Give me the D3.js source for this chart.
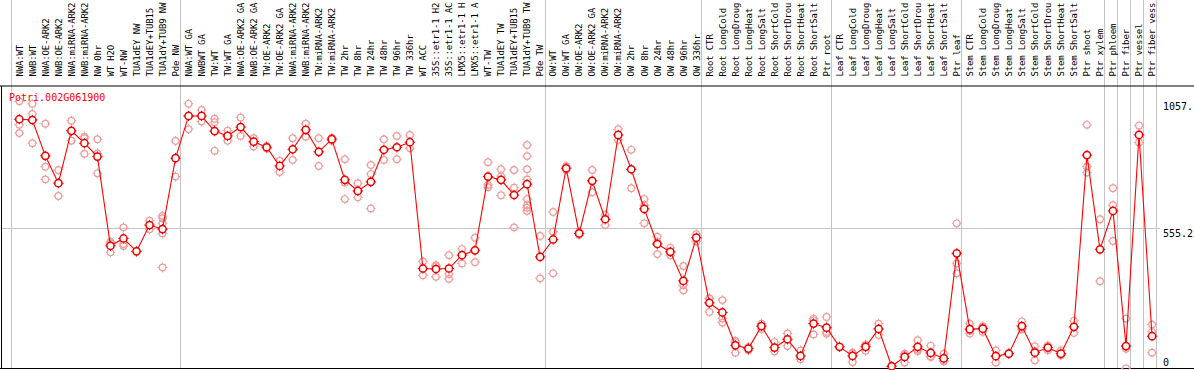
<!DOCTYPE html>
<html><head><meta charset="utf-8">
<script src="https://cdn.jsdelivr.net/npm/d3@7"></script>
<style>
html,body{margin:0;padding:0;background:#fff;overflow:hidden;}
svg{display:block;}
text{font-family:"DejaVu Sans Mono","Liberation Mono",monospace;}
</style></head><body>
<svg id="chart" width="1194" height="370"></svg>
<script>
const geneId = "Potri.002G061900";
const categories = [
"NWA:WT","NWB:WT","NWA:OE-ARK2","NWB:OE-ARK2","NWA:miRNA-ARK2","NWB:miRNA-ARK2","NW 0hr","WT H2O","WT-NW","TUA1dEY NW","TUA1dEY+TUB15","TUA1dY+TUB9 NW","Pde NW",
"NWA:WT GA","NWBWT GA","TW:WT","TW:WT GA","NWA:OE-ARK2 GA","NWB:OE-ARK2 GA","TW:OE-ARK2","TW:OE-ARK2 GA","NWA:miRNA-ARK2","NWB:miRNA-ARK2","TW:miRNA-ARK2","TW:miRNA-ARK2","TW 2hr","TW 8hr","TW 24hr","TW 48hr","TW 96hr","TW 336hr","WT ACC","35S::etr1-1 H2","35S::etr1-1 AC","LMX5::etr1-1 H","LMX5::etr1-1 A","WT-TW","TUA1dEY TW","TUA1dEY+TUB15","TUA1dY+TUB9 TW","Pde TW",
"OW:WT","OW:WT GA","OW:OE-ARK2","OW:OE-ARK2 GA","OW:miRNA-ARK2","OW:miRNA-ARK2","OW 2hr","OW 8hr","OW 24hr","OW 48hr","OW 96hr","OW 336hr",
"Root CTR","Root LongCold","Root LongDroug","Root LongHeat","Root LongSalt","Root ShortCold","Root ShortDrou","Root ShortHeat","Root ShortSalt","Ptr root",
"Leaf CTR","Leaf LongCold","Leaf LongDroug","Leaf LongHeat","Leaf LongSalt","Leaf ShortCold","Leaf ShortDrou","Leaf ShortHeat","Leaf ShortSalt","Ptr leaf",
"Stem CTR","Stem LongCold","Stem LongDroug","Stem LongHeat","Stem LongSalt","Stem ShortCold","Stem ShortDrou","Stem ShortHeat","Stem ShortSalt","Ptr shoot","Ptr xylem",
"Ptr phloem","Ptr fiber","Ptr vessel","Ptr fiber vess"
];
const means = [
986,983,841,733,940,891,838,485,514,463,567,551,832,
999,999,939,920,955,897,875,801,867,944,857,907,746,702,738,865,875,895,395,393,395,448,467,759,746,686,729,441,
510,792,534,742,590,924,788,631,492,461,346,517,
259,221,91,78,167,82,115,49,177,161,
85,49,85,156,8,45,85,61,39,455,
155,157,48,58,167,62,82,58,164,844,471,
623,88,924,127
];
const replicates = [
[1057,964,931],[1047,1007,891],[968,798,748],[785,682],[980,901],[917,911,849],[907,851,772],[501,495,459],[558,492,484],[463],[584,550],[603,594,574,534,399],[900,759],
[1047,999,947],[1023,977],[988,974,861],[941,901],[993,920],[911,896,878],[880,870],[822,777],[911,825],[968,917],[911,801],[913,901],[828,735,670],[733,702,677],[805,769,633],[907,825],[920,828],[924,871],[423,368],[408,404,362],[448,373,354],[472,415],[517,420],[816,726,717],[788,761,685],[785,715,558],[884,840,788,748,670,646,636,623],[524,356],
[619,541,376],[800,785],[540,528],[785,697],[607,567],[947,904],[865,713],[670,646,574],[521,500,452],[477,448],[405,329,309],[531,502],
[277,277,223],[270,197,181],[108,103,62],[85,71],[177,156],[104,67],[138,88],[71,36],[197,190,134],[203,144,137],
[84],[62,59,25],[94,91,69],[177,132],[8],[58,53,23],[111,74,68],[90,47,45],[58,29,28],[574,415,376],
[177,149,138],[167,162,144],[71,49,23],[60,57],[186,160,154],[87,68,32],[91,71],[71,52,52],[188,140],[964,798,775],[590,345],
[713,646,504],[197,77,0],[961,894],[173,144,62]
];
const groupBreaks = [0,13,41,53,63,73,84,85,86,87,88];
const yDomainMax = 1110.4;
const yTicks = [1057, 555.2, 0];
const yTickLabels = ["1057.", "555.2", "0"];

const svg = d3.select("#chart");
const W = 1194, H = 370;
const plotTop = 86, plotBottom = 368.5;

const x = d3.scaleLinear().domain([0, categories.length - 1]).range([19.3, 19.3 + 13.02 * (categories.length - 1)]);
const y = d3.scaleLinear().domain([0, yDomainMax]).range([368.3, 87.8]);

// vertical group separators
svg.append("g").selectAll("line").data(groupBreaks).join("line")
  .attr("x1", d => Math.round(x(d - 0.66)) + 0.5).attr("x2", d => Math.round(x(d - 0.66)) + 0.5)
  .attr("y1", 0).attr("y2", plotBottom)
  .attr("stroke", "#c4c4c4").attr("stroke-width", 1);

// horizontal mid grid
svg.append("line")
  .attr("x1", 1).attr("x2", 1160)
  .attr("y1", Math.round(y(yTicks[1])) + 0.5).attr("y2", Math.round(y(yTicks[1])) + 0.5)
  .attr("stroke", "#c4c4c4").attr("stroke-width", 1);

// frame lines
svg.append("line").attr("x1", 0).attr("x2", W).attr("y1", plotTop).attr("y2", plotTop).attr("stroke", "#000").attr("stroke-width", 1);
svg.append("line").attr("x1", 0).attr("x2", W).attr("y1", plotBottom).attr("y2", plotBottom).attr("stroke", "#000").attr("stroke-width", 1);
svg.append("line").attr("x1", 1.5).attr("x2", 1.5).attr("y1", plotTop).attr("y2", plotBottom).attr("stroke", "#000").attr("stroke-width", 1);

// marker helper
function marker(g, cx, cy, r, color, sw) {
  g.append("circle").attr("cx", cx).attr("cy", cy).attr("r", r)
    .attr("fill", "none").attr("stroke", color).attr("stroke-width", sw);
  const t = r + 1.6;
  g.append("path")
    .attr("d", `M${cx},${cy - r}V${cy - t}M${cx},${cy + r}V${cy + t}M${cx - r},${cy}H${cx - t}M${cx + r},${cy}H${cx + t}`)
    .attr("stroke", color).attr("stroke-width", 1).attr("fill", "none");
}

// replicates
const repG = svg.append("g");
replicates.forEach((reps, i) => {
  reps.forEach(v => marker(repG, x(i), y(v), 3.3, "#f09a9a", 1.2));
});

// mean line
svg.append("path")
  .datum(means)
  .attr("d", d3.line().x((d, i) => x(i)).y(d => y(d)))
  .attr("fill", "none").attr("stroke", "#ff0000").attr("stroke-width", 1.1);

// mean markers
const meanG = svg.append("g");
means.forEach((v, i) => {
  meanG.append("circle").attr("cx", x(i)).attr("cy", y(v)).attr("r", 3.6).attr("fill", "#fff");
  marker(meanG, x(i), y(v), 3.6, "#ee0000", 1.5);
});

// gene label
svg.append("text").attr("x", 9).attr("y", 101)
  .attr("fill", "#ff0000").attr("font-size", "10px").text(geneId);

// right value labels
yTicks.forEach((v, k) => {
  const yy = k === yTicks.length - 1 ? 365.5 : y(v) + 8.7;
  svg.append("text").attr("x", 1163).attr("y", yy).attr("fill", "#000")
    .attr("font-size", "10px").text(yTickLabels[k]);
});

// category labels (vertical)
svg.append("g").selectAll("text").data(categories).join("text")
  .attr("transform", (d, i) => `translate(${x(i)},76.5) rotate(-90)`)
  .attr("dy", "0.36em")
  .attr("font-size", "9px")
  .attr("letter-spacing", "-0.15px")
  .attr("fill", "#000")
  .text(d => d);
</script>
</body></html>
